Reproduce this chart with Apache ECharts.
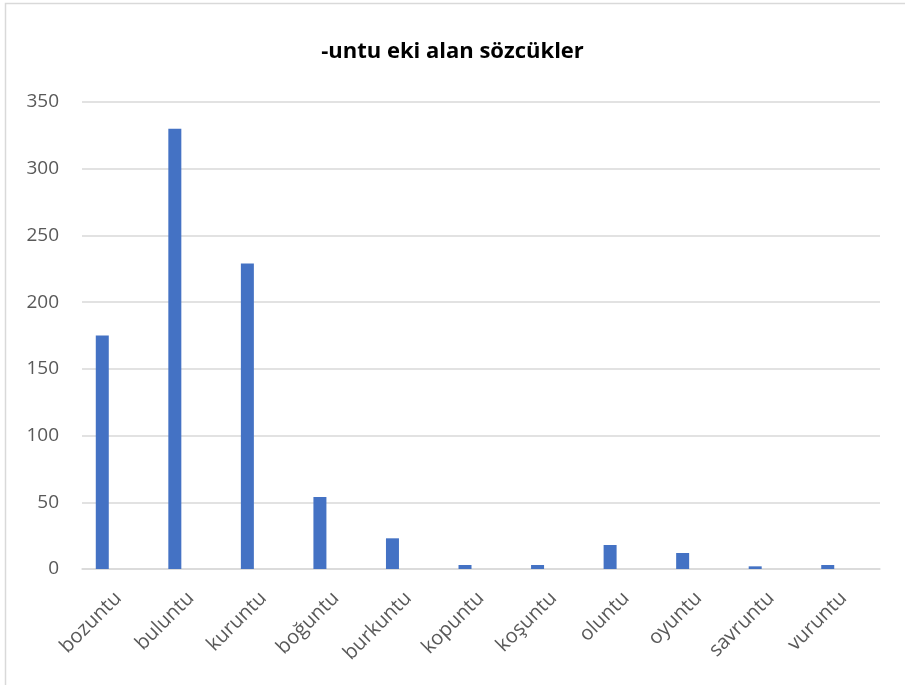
<!DOCTYPE html>
<html><head><meta charset="utf-8">
<script src="https://cdn.jsdelivr.net/npm/echarts@6/dist/echarts.min.js"></script>
<style>html,body{margin:0;padding:0;background:#fff}#c{width:905px;height:685px}</style>
</head><body><div id="c"></div>
<script>
const titleText = '-untu eki alan sözcükler';
const categories = ['bozuntu','buluntu','kuruntu','boğuntu','burkuntu','kopuntu','koşuntu','oluntu','oyuntu','savruntu','vuruntu'];
const counts = [175, 330, 229, 54, 23, 3, 3, 18, 12, 2, 3];
const emptySeries = [null, null, null, null, null, null, null, null, null, null, null];
const yTicks = [0, 50, 100, 150, 200, 250, 300, 350];

const chart = echarts.init(document.getElementById('c'), null, {renderer: 'canvas'});
const font = "'Open Sans', 'DejaVu Sans', sans-serif";
chart.setOption({
  animation: false,
  backgroundColor: '#fff',
  title: {
    text: titleText, left: 'center', top: 36,
    textStyle: {fontFamily: font, fontSize: 22, fontWeight: 'bold', color: '#000'}
  },
  graphic: [{
    type: 'rect', shape: {x: 5.5, y: 3.5, width: 1000, height: 1000},
    style: {fill: 'none', stroke: '#d9d9d9', lineWidth: 1.5}, silent: true
  }],
  grid: {left: 82, right: 25, top: 102, bottom: 116, containLabel: false},
  xAxis: {
    type: 'category', data: categories,
    axisLine: {lineStyle: {color: '#d9d9d9', width: 1.5}},
    axisTick: {show: false},
    axisLabel: {rotate: 45, fontFamily: font, fontSize: 20, color: '#595959', margin: 26, interval: 0}
  },
  yAxis: {
    type: 'value', min: yTicks[0], max: yTicks[yTicks.length - 1], interval: 50,
    axisLine: {show: false}, axisTick: {show: false},
    axisLabel: {fontFamily: font, fontSize: 19, color: '#595959', margin: 23},
    splitLine: {lineStyle: {color: '#d9d9d9', width: 1.5}}
  },
  series: [
    {type: 'bar', data: counts, barWidth: 13, barGap: '146%', itemStyle: {color: '#4472c4'}},
    {type: 'bar', data: emptySeries, barWidth: 13, itemStyle: {color: '#ed7d31'}}
  ]
});
</script></body></html>
